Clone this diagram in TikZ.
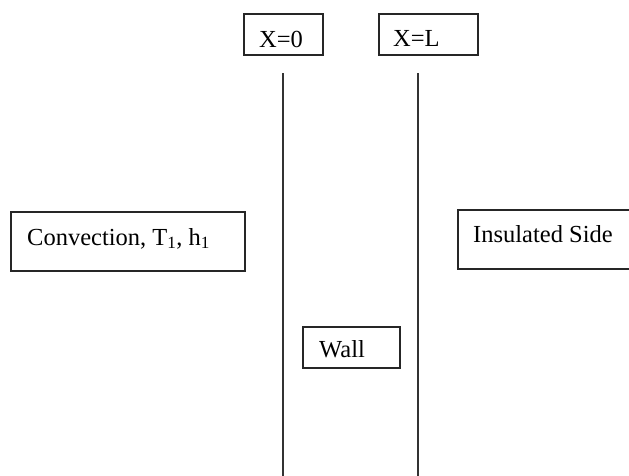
\documentclass[tikz,border=0pt]{standalone}
\usepackage{fontspec}
\setmainfont{Liberation Serif}
\begin{document}
\begin{tikzpicture}[x=1pt,y=-1pt,
  box/.style={draw=black!85, line width=1.5pt, rectangle, inner sep=0pt, anchor=north west},
  lbl/.style={anchor=base west, inner sep=0pt, font=\fontsize{24.5}{28}\selectfont},
  wallline/.style={draw=black!80, line width=2pt}]
\useasboundingbox (0,0) rectangle (629,475);
\clip (0,0) rectangle (629,475);
\fill[white] (0,0) rectangle (629,475);
% boxes
\node[box, minimum width=79pt, minimum height=41pt] (x0) at (243,13) {};
\node[box, minimum width=99pt, minimum height=41pt] (xl) at (378,13) {};
\node[box, minimum width=234pt, minimum height=59pt] (conv) at (10,211) {};
\node[box, minimum width=180pt, minimum height=59pt] (ins) at (457,209) {};
\node[box, minimum width=97pt, minimum height=41pt] (wall) at (302,326) {};
% labels
\node[lbl] (tx0) at ([xshift=16pt,yshift=-34pt]x0.north west) {X=0};
\node[lbl] (txl) at ([xshift=15pt,yshift=-33pt]xl.north west) {X=L};
\node[lbl] (tconv) at ([xshift=17pt,yshift=-34pt]conv.north west) {Convection, T\textsubscript{1}, h\textsubscript{1}};
\node[lbl] (tins) at ([xshift=16pt,yshift=-33pt]ins.north west) {Insulated Side};
\node[lbl] (twall) at ([xshift=17pt,yshift=-31pt]wall.north west) {Wall};
% wall faces
\coordinate (l0) at (283,73);
\coordinate (l1) at (283,476);
\coordinate (r0) at (418,73);
\coordinate (r1) at (418,476);
\draw[wallline] (l0) -- (l1);
\draw[wallline] (r0) -- (r1);
\end{tikzpicture}
\end{document}
